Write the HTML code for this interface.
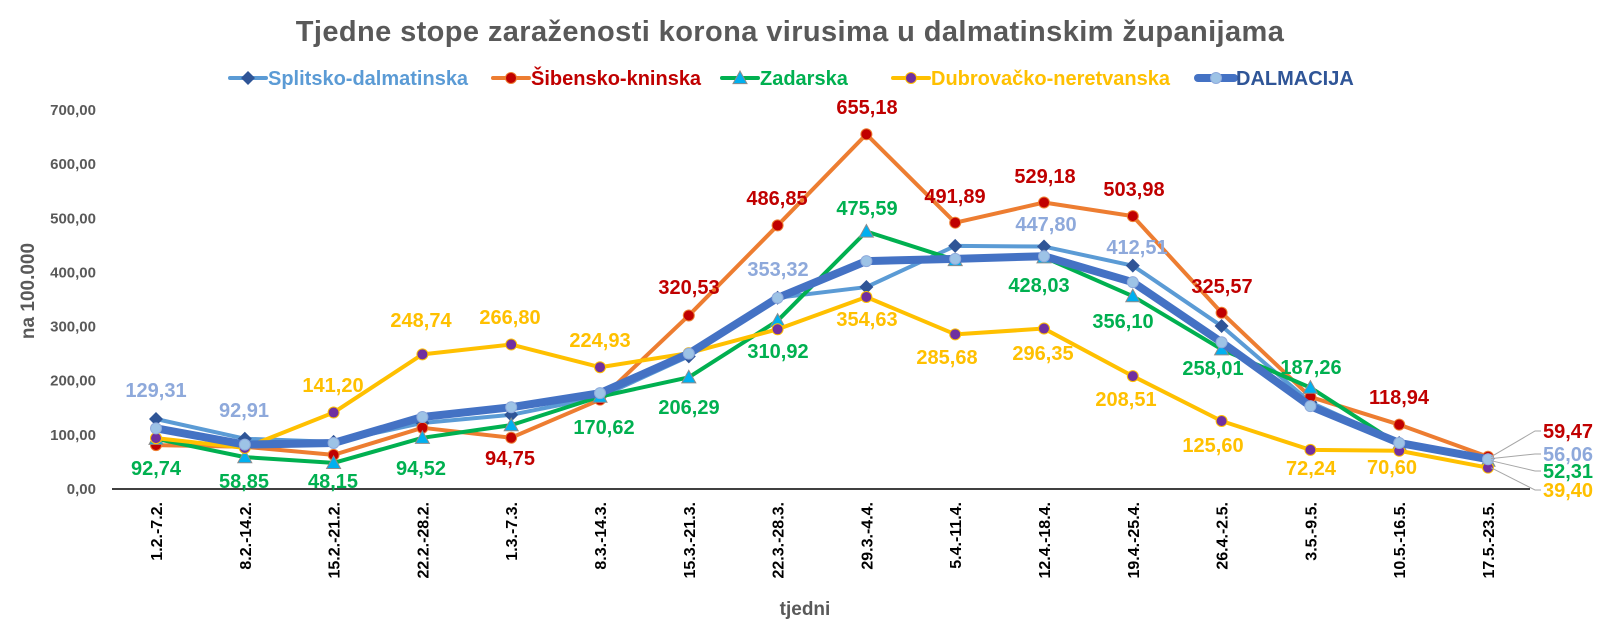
<!DOCTYPE html>
<html><head><meta charset="utf-8"><style>
html,body{margin:0;padding:0;background:#fff;}
svg{display:block;font-family:"Liberation Sans",sans-serif;}
</style></head><body>
<svg id="c" width="1607" height="638" xmlns="http://www.w3.org/2000/svg">
<rect width="1607" height="638" fill="#fff"/>
<text x="790" y="41" text-anchor="middle" font-size="29" font-weight="bold" fill="#595959" letter-spacing="0.4">Tjedne stope zaraženosti korona virusima u dalmatinskim županijama</text>
<text transform="translate(34,291) rotate(-90)" text-anchor="middle" font-size="19" font-weight="bold" fill="#595959">na 100.000</text>
<text x="805" y="615" text-anchor="middle" font-size="19" font-weight="bold" fill="#595959">tjedni</text>
<line x1="112" y1="489" x2="1530" y2="489" stroke="#000" stroke-width="1.5"/>
<g id="g"></g>
</svg>
<script>
const NS="http://www.w3.org/2000/svg";
const g=document.getElementById('g');
function el(t,a,txt){const e=document.createElementNS(NS,t);for(const k in a)e.setAttribute(k,a[k]);if(txt!==undefined)e.textContent=txt;g.appendChild(e);return e;}
const X=i=>156+88.8*i, Y=v=>489-v*0.5414;
for(let v=0;v<=700;v+=100){el('text',{x:96,y:Y(v)+5,'text-anchor':'end','font-size':15,'font-weight':'bold',fill:'#595959'},v+',00');}
const cats=['1.2.-7.2.','8.2.-14.2.','15.2.-21.2.','22.2.-28.2.','1.3.-7.3.','8.3.-14.3.','15.3.-21.3.','22.3.-28.3.','29.3.-4.4.','5.4.-11.4.','12.4.-18.4.','19.4.-25.4.','26.4.-2.5.','3.5.-9.5.','10.5.-16.5.','17.5.-23.5.'];
cats.forEach((c,i)=>{el('text',{transform:`translate(${X(i)+6},502) rotate(-90)`,'text-anchor':'end','font-size':16,'font-weight':'bold',fill:'#000'},c);});
const S={
 spl:[129.31,92.91,87,122,137,170,245,353.32,373,449,447.80,412.51,301,160,85,56.06],
 sib:[81,78,63,113,94.75,165,320.53,486.85,655.18,491.89,529.18,503.98,325.57,170,118.94,59.47],
 zad:[92.74,58.85,48.15,94.52,118,170.62,206.29,310.92,475.59,423,428.03,356.10,258.01,187.26,82,52.31],
 dub:[94,76,141.20,248.74,266.80,224.93,251,295,354.63,285.68,296.35,208.51,125.60,72.24,70.60,39.40],
 dal:[112,82,85,133,151,177,250,353,421,425,430,382,271,153,85,55]
};
function line(d,col,w){el('polyline',{points:d.map((v,i)=>X(i)+','+Y(v)).join(' '),fill:'none',stroke:col,'stroke-width':w,'stroke-linejoin':'round','stroke-linecap':'round'});}
function diamond(x,y,s,f){el('polygon',{points:`${x},${y-s} ${x+s},${y} ${x},${y+s} ${x-s},${y}`,fill:f});}
function tri(x,y,s){el('polygon',{points:`${x},${y-s} ${x+s},${y+s*0.8} ${x-s},${y+s*0.8}`,fill:'#00B0F0',stroke:'#8c8c8c','stroke-width':1});}
function circ(x,y,r,f,st){el('circle',{cx:x,cy:y,r:r,fill:f,stroke:st,'stroke-width':1});}
line(S.spl,'#5B9BD5',4); S.spl.forEach((v,i)=>diamond(X(i),Y(v),7,'#2F5597'));
line(S.sib,'#ED7D31',4); S.sib.forEach((v,i)=>circ(X(i),Y(v),5.5,'#C00000','#ED7D31'));
line(S.zad,'#00B050',4); S.zad.forEach((v,i)=>tri(X(i),Y(v),7));
line(S.dub,'#FFC000',4); S.dub.forEach((v,i)=>circ(X(i),Y(v),5.5,'#7030A0','#FFC000'));
line(S.dal,'#4472C4',8); S.dal.forEach((v,i)=>circ(X(i),Y(v),5.5,'#9DC3E6','#8FAADC'));
const L=[
 ['#8EA9DB',[[156,390,'129,31'],[244,410,'92,91'],[778,269,'353,32'],[1046,224,'447,80'],[1137,247,'412,51']]],
 ['#C00000',[[510,458,'94,75'],[689,287,'320,53'],[777,198,'486,85'],[867,107,'655,18'],[955,196,'491,89'],[1045,176,'529,18'],[1134,189,'503,98'],[1222,286,'325,57'],[1399,397,'118,94']]],
 ['#00B050',[[156,468,'92,74'],[244,481,'58,85'],[333,481,'48,15'],[421,468,'94,52'],[604,427,'170,62'],[689,407,'206,29'],[778,351,'310,92'],[867,208,'475,59'],[1039,285,'428,03'],[1123,321,'356,10'],[1213,368,'258,01'],[1311,367,'187,26']]],
 ['#FFC000',[[333,385,'141,20'],[421,320,'248,74'],[510,317,'266,80'],[600,340,'224,93'],[867,319,'354,63'],[947,357,'285,68'],[1043,353,'296,35'],[1126,399,'208,51'],[1213,445,'125,60'],[1311,468,'72,24'],[1392,467,'70,60']]]
];
L.forEach(([c,a])=>a.forEach(([x,y,t])=>el('text',{x:x,y:y+7,'text-anchor':'middle','font-size':20,'font-weight':'bold',fill:c},t)));
const R=[['#C00000','59,47',431],['#8EA9DB','56,06',454],['#00B050','52,31',471],['#FFC000','39,40',490]];
const py=[Y(59.47),Y(56.06),Y(52.31),Y(39.4)];
R.forEach(([c,t,y],k)=>{el('polyline',{points:`${X(15)+3},${py[k]} 1535,${y} 1541,${y}`,fill:'none',stroke:'#a6a6a6','stroke-width':1});
 el('text',{x:1543,y:y+7,'font-size':20,'font-weight':'bold',fill:c},t);});
const LG=[[230,'#5B9BD5',4,'d','#2F5597','Splitsko-dalmatinska','#5B9BD5'],[493,'#ED7D31',4,'c','#C00000','Šibensko-kninska','#C00000'],[722,'#00B050',4,'t','','Zadarska','#00B050'],[893,'#FFC000',4,'p','#7030A0','Dubrovačko-neretvanska','#FFC000'],[1198,'#4472C4',8,'q','#9DC3E6','DALMACIJA','#2F5597']];
LG.forEach(([x,lc,w,m,mc,t,tc])=>{const y=78;el('line',{x1:x,y1:y,x2:x+36,y2:y,stroke:lc,'stroke-width':w,'stroke-linecap':'round'});
 const cx=x+18; if(m=='d')diamond(cx,y,7,mc);else if(m=='t')tri(cx,y,7);else circ(cx,y,5.5,mc,m=='p'?'#FFC000':(m=='q'?'#8FAADC':'#ED7D31'));
 el('text',{x:x+38,y:y+7,'font-size':20,'font-weight':'bold',fill:tc},t);});
</script>
</body></html>
